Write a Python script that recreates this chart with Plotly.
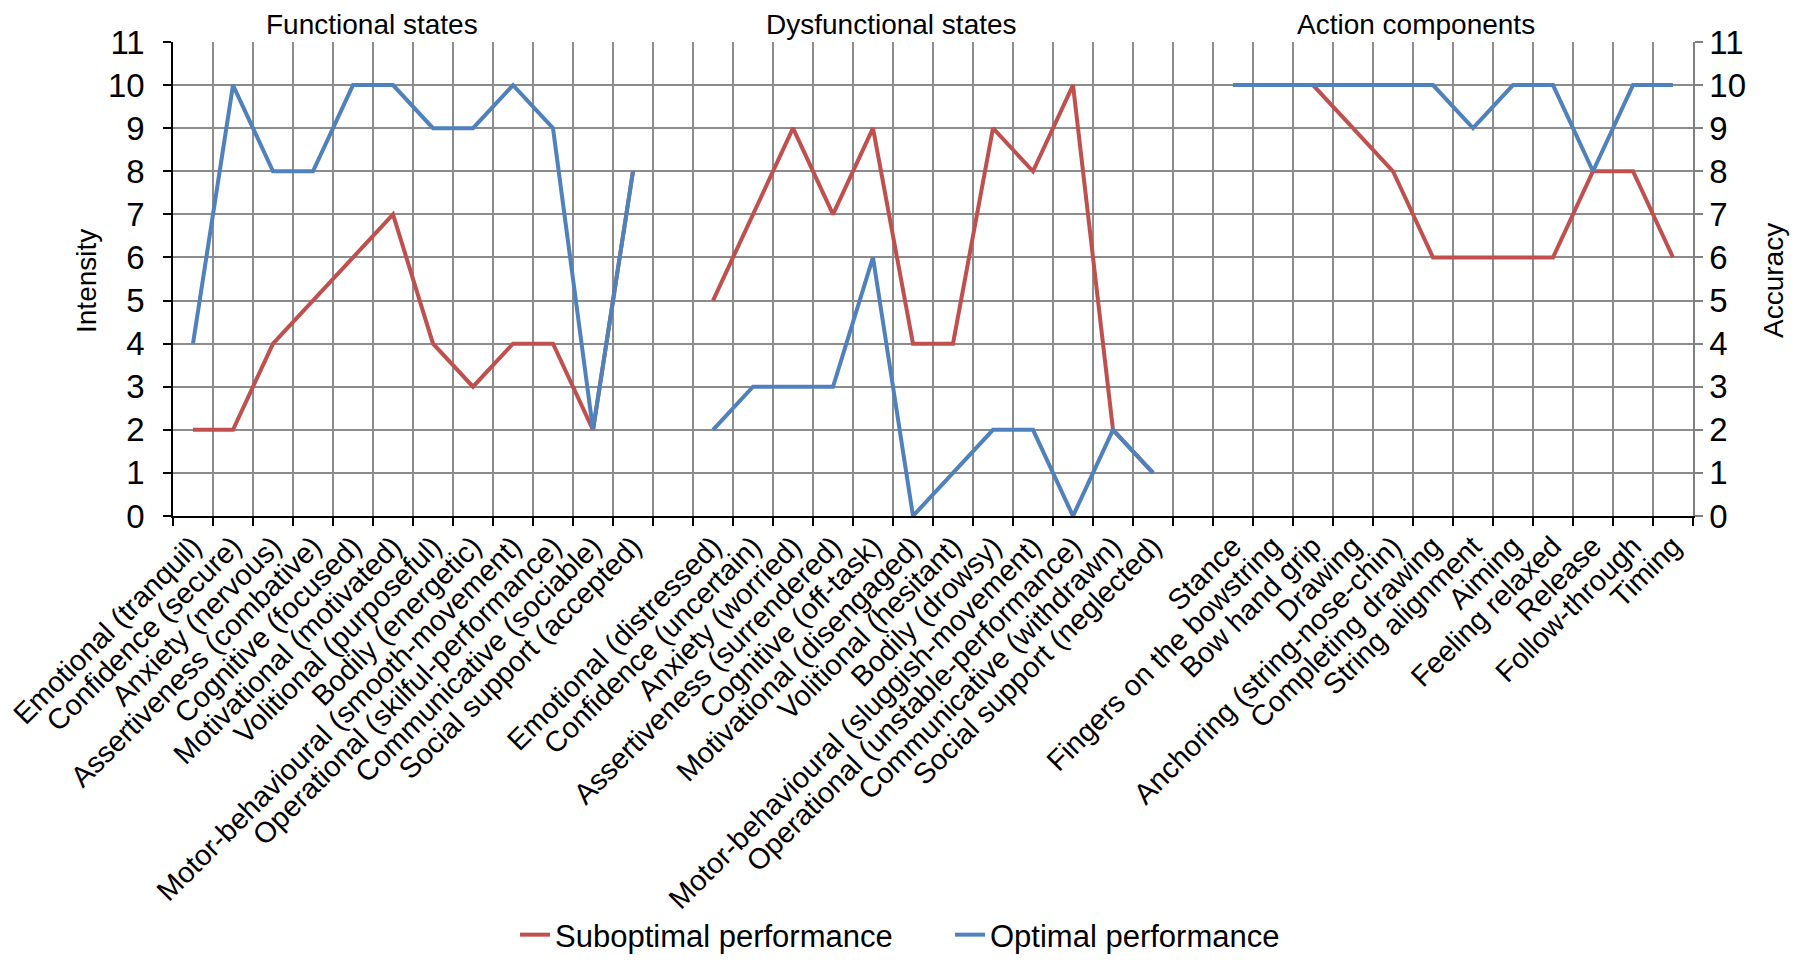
import plotly.graph_objects as go

# ---------------- data ----------------
functional_labels = ["Emotional (tranquil)", "Confidence (secure)", "Anxiety (nervous)",
                     "Assertiveness (combative)", "Cognitive (focused)", "Motivational (motivated)",
                     "Volitional (purposeful)", "Bodily (energetic)",
                     "Motor-behavioural (smooth-movement)", "Operational (skilful-performance)",
                     "Communicative (sociable)", "Social support (accepted)"]
functional_suboptimal = [2, 2, 4, 5, 6, 7, 4, 3, 4, 4, 2, 8]
functional_optimal = [4, 10, 8, 8, 10, 10, 9, 9, 10, 9, 2, 8]

dysfunctional_labels = ["Emotional (distressed)", "Confidence (uncertain)", "Anxiety (worried)",
                        "Assertiveness (surrendered)", "Cognitive (off-task)",
                        "Motivational (disengaged)", "Volitional (hesitant)", "Bodily (drowsy)",
                        "Motor-behavioural (sluggish-movement)",
                        "Operational (unstable-performance)", "Communicative (withdrawn)",
                        "Social support (neglected)"]
dysfunctional_suboptimal = [5, 7, 9, 7, 9, 4, 4, 9, 8, 10, 2, 1]
dysfunctional_optimal = [2, 3, 3, 3, 6, 0, 1, 2, 2, 0, 2, 1]

action_labels = ["Stance", "Fingers on the bowstring", "Bow hand grip", "Drawing",
                 "Anchoring (string-nose-chin)", "Completing drawing", "String alignment",
                 "Aiming", "Feeling relaxed", "Release", "Follow-through", "Timing"]
action_suboptimal = [10, 10, 10, 9, 8, 6, 6, 6, 6, 8, 8, 6]
action_optimal = [10, 10, 10, 10, 10, 10, 9, 10, 10, 8, 10, 10]

group_titles = ["Functional states", "Dysfunctional states", "Action components"]
series_names = ["Suboptimal performance", "Optimal performance"]
y_ticks = list(range(0, 12))

# ---------------- styling ----------------
RED = "#C0504D"
BLUE = "#4F81BD"
FONT = "Liberation Sans, Arial, sans-serif"
GRID = "#8c8c8c"

gap1, gap2 = " ", "  "
all_cats = functional_labels + [gap1] + dysfunctional_labels + [gap2] + action_labels
states_x = functional_labels + [gap1] + dysfunctional_labels

sub_states = functional_suboptimal + [None] + dysfunctional_suboptimal
opt_states = functional_optimal + [None] + dysfunctional_optimal

fig = go.Figure()
fig.add_trace(go.Scatter(x=states_x, y=sub_states, mode="lines", name=series_names[0],
                         line=dict(color=RED, width=4), connectgaps=False,
                         legendgroup="sub", yaxis="y"))
fig.add_trace(go.Scatter(x=states_x, y=opt_states, mode="lines", name=series_names[1],
                         line=dict(color=BLUE, width=4), connectgaps=False,
                         legendgroup="opt", yaxis="y"))
fig.add_trace(go.Scatter(x=action_labels, y=action_suboptimal, mode="lines", name=series_names[0],
                         line=dict(color=RED, width=4), legendgroup="sub", showlegend=False,
                         yaxis="y2"))
fig.add_trace(go.Scatter(x=action_labels, y=action_optimal, mode="lines", name=series_names[1],
                         line=dict(color=BLUE, width=4), legendgroup="opt", showlegend=False,
                         yaxis="y2"))

# page (window) geometry of the reference; the html body adds an 8px margin
OFF = 8
PAGE_W, PAGE_H = 1798, 962
PLOT_L, PLOT_R, PLOT_T, PLOT_B = 173, 1693, 42, 516
W, H = PAGE_W - 2 * OFF, PAGE_H - 2 * OFF
L = PLOT_L - OFF
T = PLOT_T - OFF
R = W - (PLOT_R - OFF)
B = H - (PLOT_B - OFF)
plot_w = PLOT_R - PLOT_L
plot_h = PLOT_B - PLOT_T

def px_x(px):
    return (px - PLOT_L) / plot_w

def px_y(py):
    return (PLOT_B - py) / plot_h

fig.update_layout(
    width=W, height=H,
    margin=dict(l=L, r=R, t=T, b=B, autoexpand=False),
    paper_bgcolor="white", plot_bgcolor="white",
    font=dict(family=FONT, size=27, color="black"),
    xaxis=dict(type="category", categoryorder="array", categoryarray=all_cats,
               range=[-0.5, len(all_cats) - 0.5], tickson="boundaries",
               showgrid=True, gridcolor=GRID, gridwidth=1.5,
               showline=True, linecolor="black", linewidth=1.5,
               ticks="outside", ticklen=8, tickcolor="black", tickwidth=1.5,
               tickangle=-45, tickfont=dict(size=29, family=FONT, color="black"),
               zeroline=False, fixedrange=True),
    yaxis=dict(range=[0, 11], tickvals=y_ticks, showgrid=True, gridcolor=GRID, gridwidth=1.5,
               showline=True, linecolor="black", linewidth=1.5,
               ticks="outside", ticklen=8, tickcolor="black", tickwidth=1.5,
               ticklabelstandoff=12,
               tickfont=dict(size=33, family=FONT, color="black"), zeroline=False),
    yaxis2=dict(range=[0, 11], tickvals=y_ticks, overlaying="y", side="right",
                showgrid=False, showline=True, linecolor="#808080", linewidth=1.5,
                ticks="outside", ticklen=8, tickcolor="#808080", tickwidth=1.5,
                tickfont=dict(size=33, family=FONT, color="black"), zeroline=False),
    legend=dict(orientation="h", x=0.5 + 17 / plot_w, xanchor="center",
                y=px_y(935), yanchor="middle", bgcolor="rgba(0,0,0,0)",
                font=dict(size=31, family=FONT, color="black"), traceorder="normal",
                entrywidth=390, itemwidth=30),
    showlegend=True,
)

annotations = []
for title, cx in zip(group_titles, [372, 891, 1416]):
    annotations.append(dict(text=title, x=px_x(cx), y=px_y(OFF), xref="paper", yref="paper",
                            showarrow=False, xanchor="center", yanchor="top", borderpad=0,
                            font=dict(size=28, family=FONT, color="black")))
annotations.append(dict(text="Intensity", x=px_x(86), y=px_y(281), xref="paper", yref="paper",
                        showarrow=False, textangle=-90, xanchor="center", yanchor="middle",
                        font=dict(size=28, family=FONT, color="black")))
annotations.append(dict(text="Accuracy", x=px_x(1773), y=px_y(281), xref="paper", yref="paper",
                        showarrow=False, textangle=-90, xanchor="center", yanchor="middle",
                        font=dict(size=28, family=FONT, color="black")))
fig.update_layout(annotations=annotations)

fig.write_html("out.html")
